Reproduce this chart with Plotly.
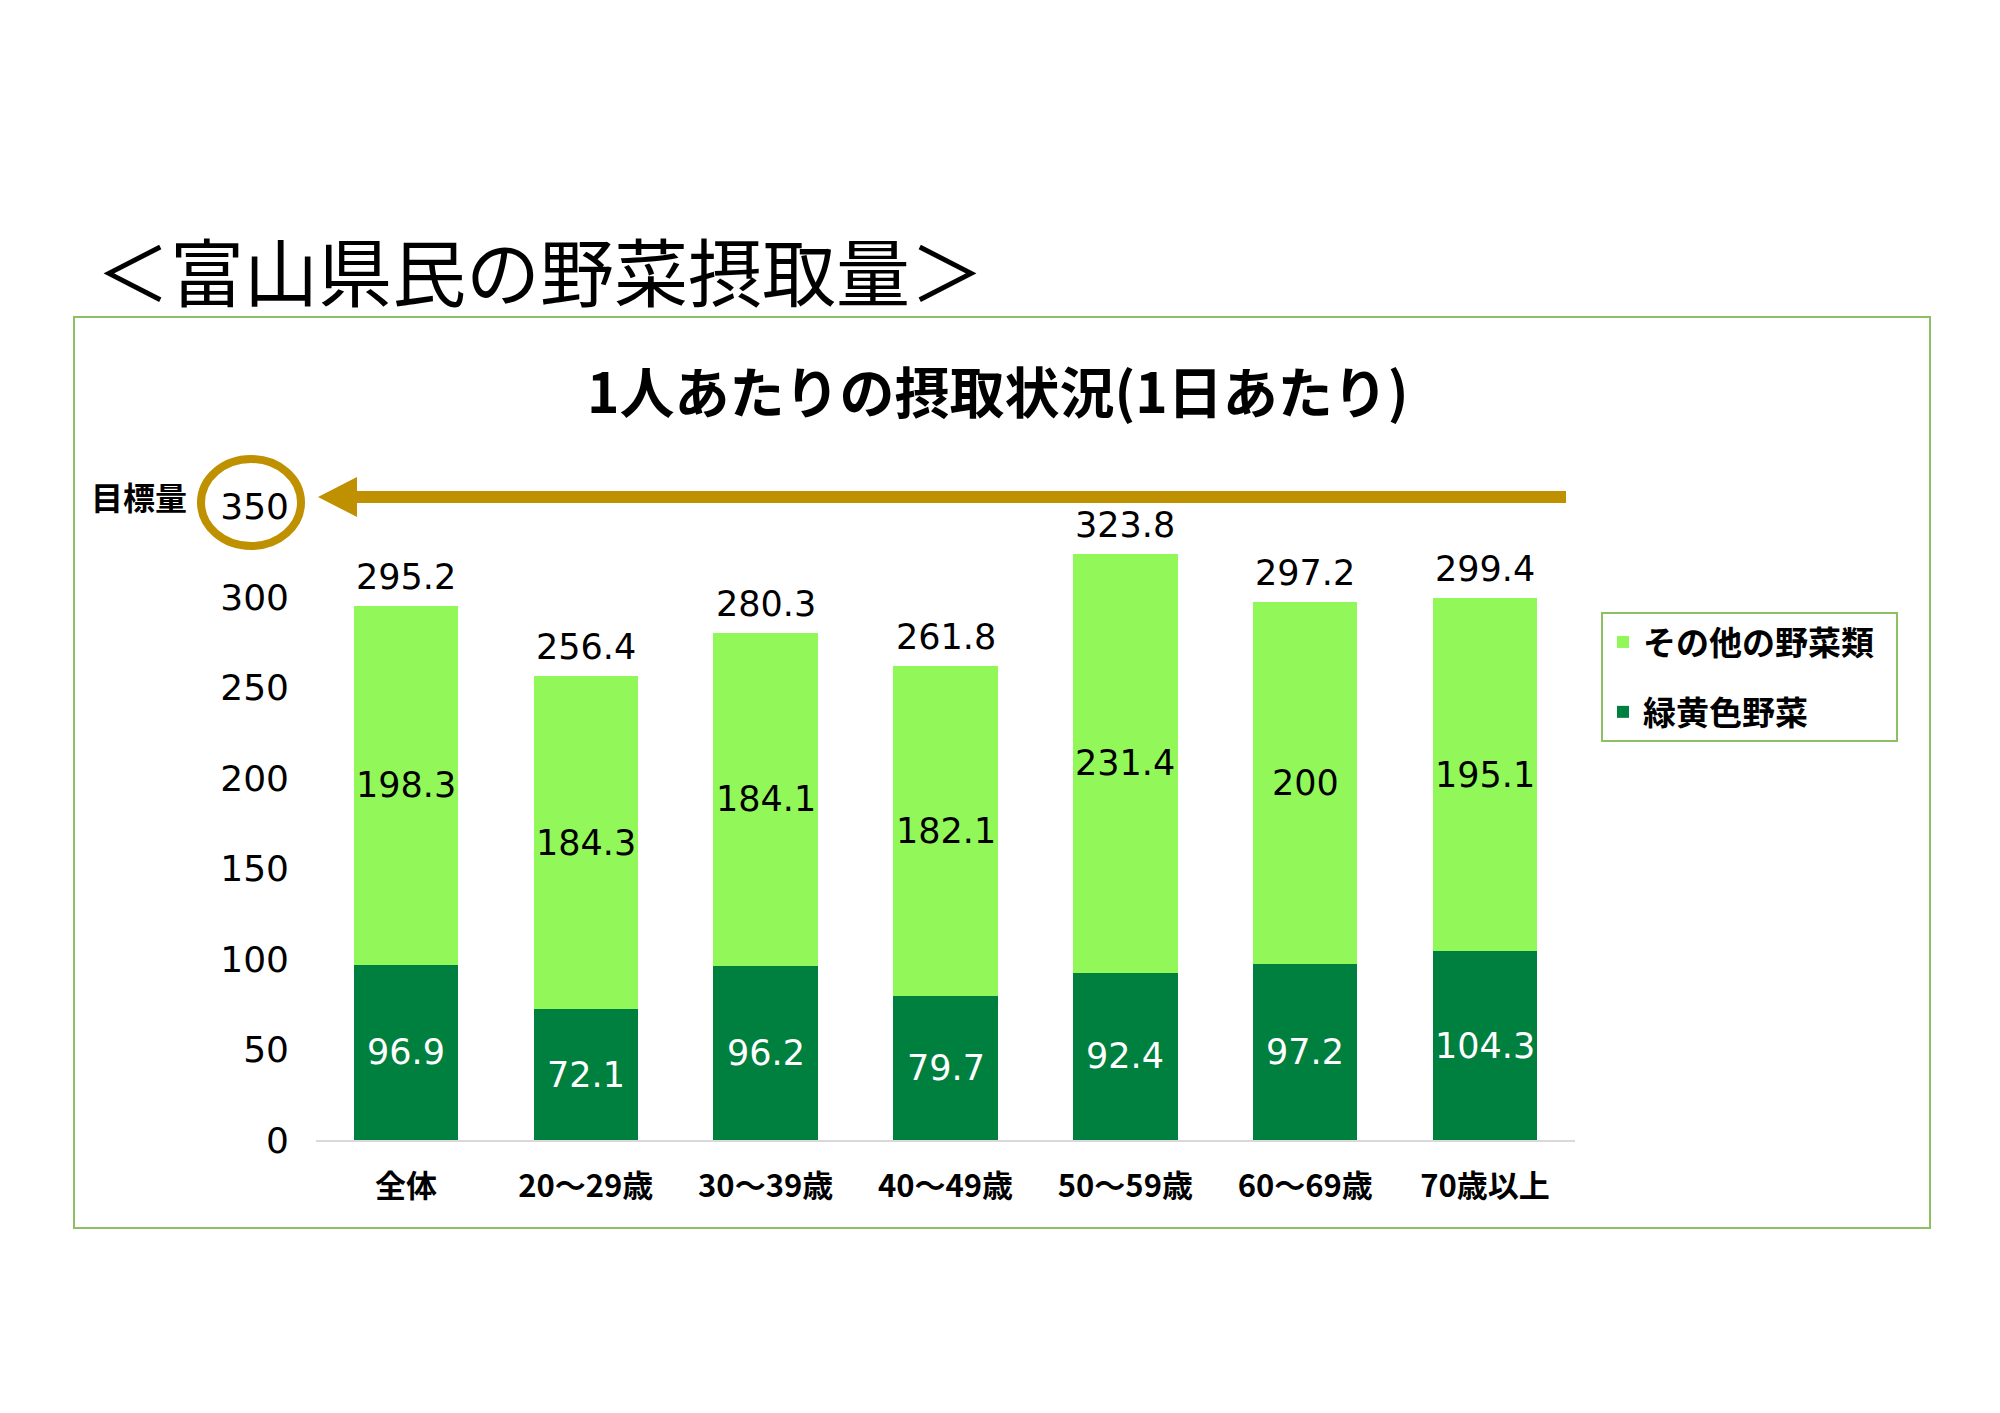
import plotly.graph_objects as go

W, H = 2000, 1413

categories = ["全体", "20～29歳", "30～39歳", "40～49歳", "50～59歳", "60～69歳", "70歳以上"]
green_yellow = [96.9, 72.1, 96.2, 79.7, 92.4, 97.2, 104.3]   # 緑黄色野菜
other_veg = [198.3, 184.3, 184.1, 182.1, 231.4, 200, 195.1]  # その他の野菜類
totals = [295.2, 256.4, 280.3, 261.8, 323.8, 297.2, 299.4]
y_ticks = [0, 50, 100, 150, 200, 250, 300, 350]
target = 350

DARK = "#00803E"
LIGHT = "#92F85A"
GOLD = "#BF9000"
FRAME = "#8CC063"
JP = "Noto Sans CJK JP"
NUM = "DejaVu Sans, Noto Sans CJK JP"


def px(x):
    return x / W


def py(y):
    return 1 - y / H


fig = go.Figure()
fig.add_trace(go.Bar(x=categories, y=green_yellow, name="<b>緑黄色野菜</b>\u2002",
                     marker=dict(color=DARK, line=dict(width=0)),
                     legendgroup="b", legendrank=2, hoverinfo="skip"))
fig.add_trace(go.Bar(x=categories, y=other_veg, name="<b>その他の野菜類</b>\u2002",
                     marker=dict(color=LIGHT, line=dict(width=0)),
                     legendgroup="a", legendrank=1, hoverinfo="skip"))

annotations = []
for c, g, o, t in zip(categories, green_yellow, other_veg, totals):
    annotations.append(dict(x=c, y=g / 2, xref="x", yref="y", text=f"{g:g}",
                            xanchor="center", yanchor="middle",
                            showarrow=False, font=dict(family=NUM, size=35, color="white")))
    annotations.append(dict(x=c, y=g + o / 2, xref="x", yref="y", text=f"{o:g}",
                            xanchor="center", yanchor="middle",
                            showarrow=False, font=dict(family=NUM, size=35, color="black")))
    annotations.append(dict(x=c, y=t, xref="x", yref="y", text=f"{t:g}", yshift=29,
                            xanchor="center", yanchor="middle",
                            showarrow=False, font=dict(family=NUM, size=35, color="black")))

# titles
annotations.append(dict(x=px(540), y=py(268), xref="paper", yref="paper",
                        xanchor="center", yanchor="middle",
                        text="＜富山県民の野菜摂取量＞", showarrow=False,
                        font=dict(family=JP, size=74, color="black")))
annotations.append(dict(x=px(997), y=py(389), xref="paper", yref="paper",
                        xanchor="center", yanchor="middle",
                        text="<b>1人あたりの摂取状況(1日あたり)</b>", showarrow=False,
                        font=dict(family=JP, size=55, color="black")))
annotations.append(dict(x=px(189), y=py(496), xref="paper", yref="paper",
                        xanchor="right", yanchor="middle",
                        text="<b>目標量</b>", showarrow=False,
                        font=dict(family=JP, size=32, color="black")))

shapes = [
    # outer frame
    dict(type="rect", xref="paper", yref="paper", x0=px(74), x1=px(1930), y0=py(1228), y1=py(317),
         line=dict(color=FRAME, width=2), fillcolor="rgba(0,0,0,0)", layer="below"),
    # target circle around 350
    dict(type="circle", xref="paper", yref="paper", x0=px(201), x1=px(301), y0=py(546), y1=py(459),
         line=dict(color=GOLD, width=8)),
    # arrow shaft
    dict(type="line", xref="paper", yref="paper", x0=px(1566), x1=px(350), y0=py(497), y1=py(497),
         line=dict(color=GOLD, width=12)),
    # arrow head
    dict(type="path", xref="paper", yref="paper",
         path=f"M{px(318)},{py(497)} L{px(357)},{py(477)} L{px(357)},{py(517)} Z",
         fillcolor=GOLD, line=dict(color=GOLD, width=0)),
]

fig.update_layout(
    width=W, height=H,
    margin=dict(l=0, r=0, t=0, b=0, pad=0, autoexpand=False),
    paper_bgcolor="white", plot_bgcolor="white",
    barmode="stack", bargap=0.42,
    font=dict(family=JP, color="black"),
    xaxis=dict(domain=[px(316), px(1575)], showline=True, linecolor="#D9D9D9", linewidth=2,
               showgrid=False, ticks="", tickfont=dict(family=JP, size=31, color="black"),
               tickprefix="<b>", ticksuffix="</b>",
               ticklabelstandoff=18, fixedrange=True, automargin=False),
    yaxis=dict(domain=[py(1140), py(488.4)], range=[0, 360], tickvals=y_ticks,
               showgrid=False, zeroline=False, showline=False, ticks="",
               tickfont=dict(family=NUM, size=36, color="black"), ticklabelstandoff=26,
               fixedrange=True, automargin=False),
    legend=dict(x=px(1601), y=py(612), xanchor="left", yanchor="top",
                bgcolor="white", bordercolor=FRAME, borderwidth=2,
                font=dict(family=JP, size=33, color="black"),
                traceorder="grouped", tracegroupgap=24, itemwidth=30),
    showlegend=True,
    annotations=annotations,
    shapes=shapes,
)

fig.write_html("out.html")
